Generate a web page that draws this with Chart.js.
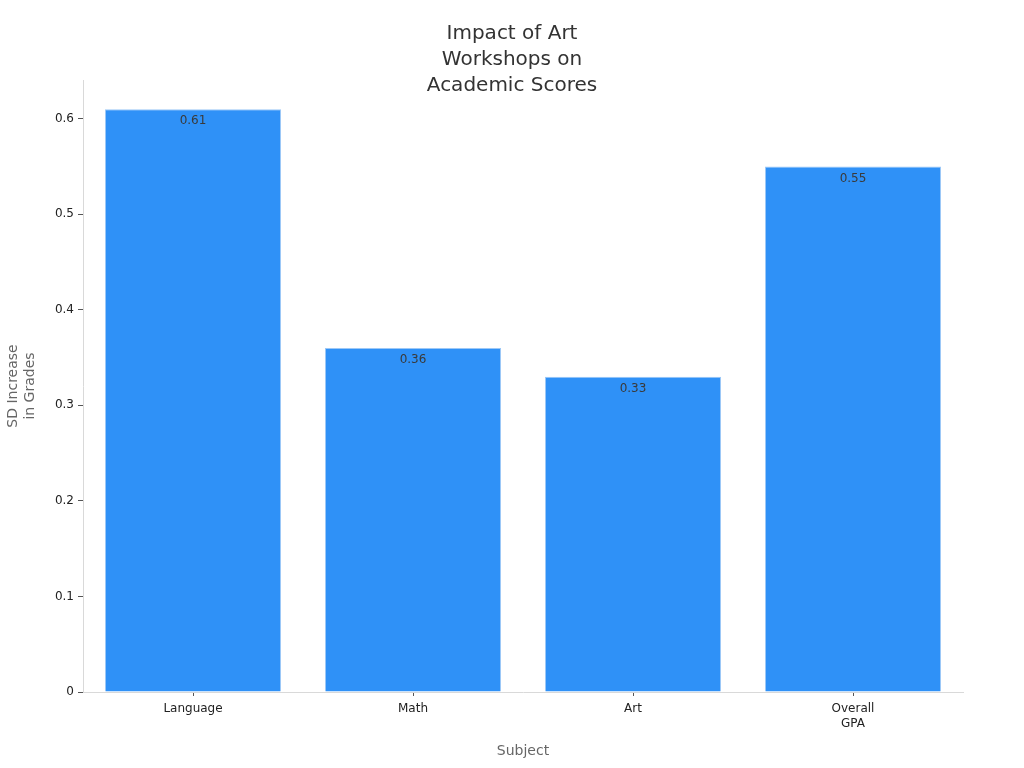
<!DOCTYPE html>
<html>
<head>
<meta charset="utf-8">
<script src="https://cdn.jsdelivr.net/npm/chart.js@4/dist/chart.umd.min.js"></script>
<style>
  html, body { margin: 0; padding: 0; background: #fff; }
  #wrap { width: 1024px; height: 768px; position: relative; }
</style>
</head>
<body>
<div id="wrap"><canvas id="chart"></canvas></div>
<script>
const categories = ['Language', 'Math', 'Art', ['Overall', 'GPA']];
const sdIncrease = [0.61, 0.36, 0.33, 0.55];
const yTicks = [0, 0.1, 0.2, 0.3, 0.4, 0.5, 0.6];
const titleLines = ['Impact of Art', 'Workshops on', 'Academic Scores'];

const FONT = "'DejaVu Sans', sans-serif";

// title drawn by hand so it can sit over the top of the plot like the original
const titlePlugin = {
    id: 'titleLines',
    afterDraw(chart) {
        const ctx = chart.ctx;
        ctx.save();
        ctx.font = '20px ' + FONT;
        ctx.fillStyle = '#333333';
        ctx.textAlign = 'center';
        ctx.textBaseline = 'middle';
        titleLines.forEach((line, i) => {
            ctx.fillText(line, 512, 34 + i * 26);
        });
        ctx.restore();
    }
};

// value labels just inside the top of each bar
const valuePlugin = {
    id: 'valueLabels',
    afterDatasetsDraw(chart) {
        const ctx = chart.ctx;
        const meta = chart.getDatasetMeta(0);
        ctx.save();
        ctx.font = '12px ' + FONT;
        ctx.fillStyle = '#3a3a3a';
        ctx.textAlign = 'center';
        ctx.textBaseline = 'middle';
        meta.data.forEach((bar, i) => {
            ctx.fillText(sdIncrease[i].toFixed(2), bar.x, bar.y + 12);
        });
        ctx.restore();
    }
};

const ctx = document.getElementById('chart').getContext('2d');
new Chart(ctx, {
    type: 'bar',
    data: {
        labels: categories,
        datasets: [{
            data: sdIncrease,
            backgroundColor: '#2f91f7',
            borderColor: '#9cc8f7',
            borderWidth: 1,
            categoryPercentage: 0.8,
            barPercentage: 1
        }]
    },
    options: {
        responsive: true,
        maintainAspectRatio: false,
        animation: false,
        layout: { padding: { top: 80, right: 61, left: 0, bottom: 0 } },
        plugins: {
            legend: { display: false },
            title: { display: false },
            tooltip: { enabled: false }
        },
        scales: {
            x: {
                grid: { offset: false, drawOnChartArea: false, drawTicks: true, tickLength: 4, color: '#555' },
                border: { display: true, color: '#d9d9d9' },
                ticks: { color: '#222', font: { family: FONT, size: 12, lineHeight: 1.25 }, padding: 5, maxRotation: 0 },
                title: { display: true, text: 'Subject', color: '#666', font: { family: FONT, size: 14 }, padding: { top: 4, bottom: 8 } },
                afterFit: s => { s.height = 76; }
            },
            y: {
                min: 0,
                max: 0.6405,
                afterBuildTicks: s => { s.ticks = yTicks.map(v => ({ value: v })); },
                grid: { drawOnChartArea: false, drawTicks: true, tickLength: 5, color: '#555' },
                border: { display: true, color: '#d9d9d9' },
                ticks: { color: '#222', font: { family: FONT, size: 12 }, padding: 4,
                    callback: v => v === 0 ? '0' : v.toFixed(1) },
                title: { display: true, text: ['SD Increase', 'in Grades'], color: '#666',
                    font: { family: FONT, size: 14, lineHeight: 1.2 }, padding: { top: 5, bottom: 0 } },
                afterFit: s => { s.width = 83; }
            }
        }
    },
    plugins: [titlePlugin, valuePlugin]
});
</script>
</body>
</html>
